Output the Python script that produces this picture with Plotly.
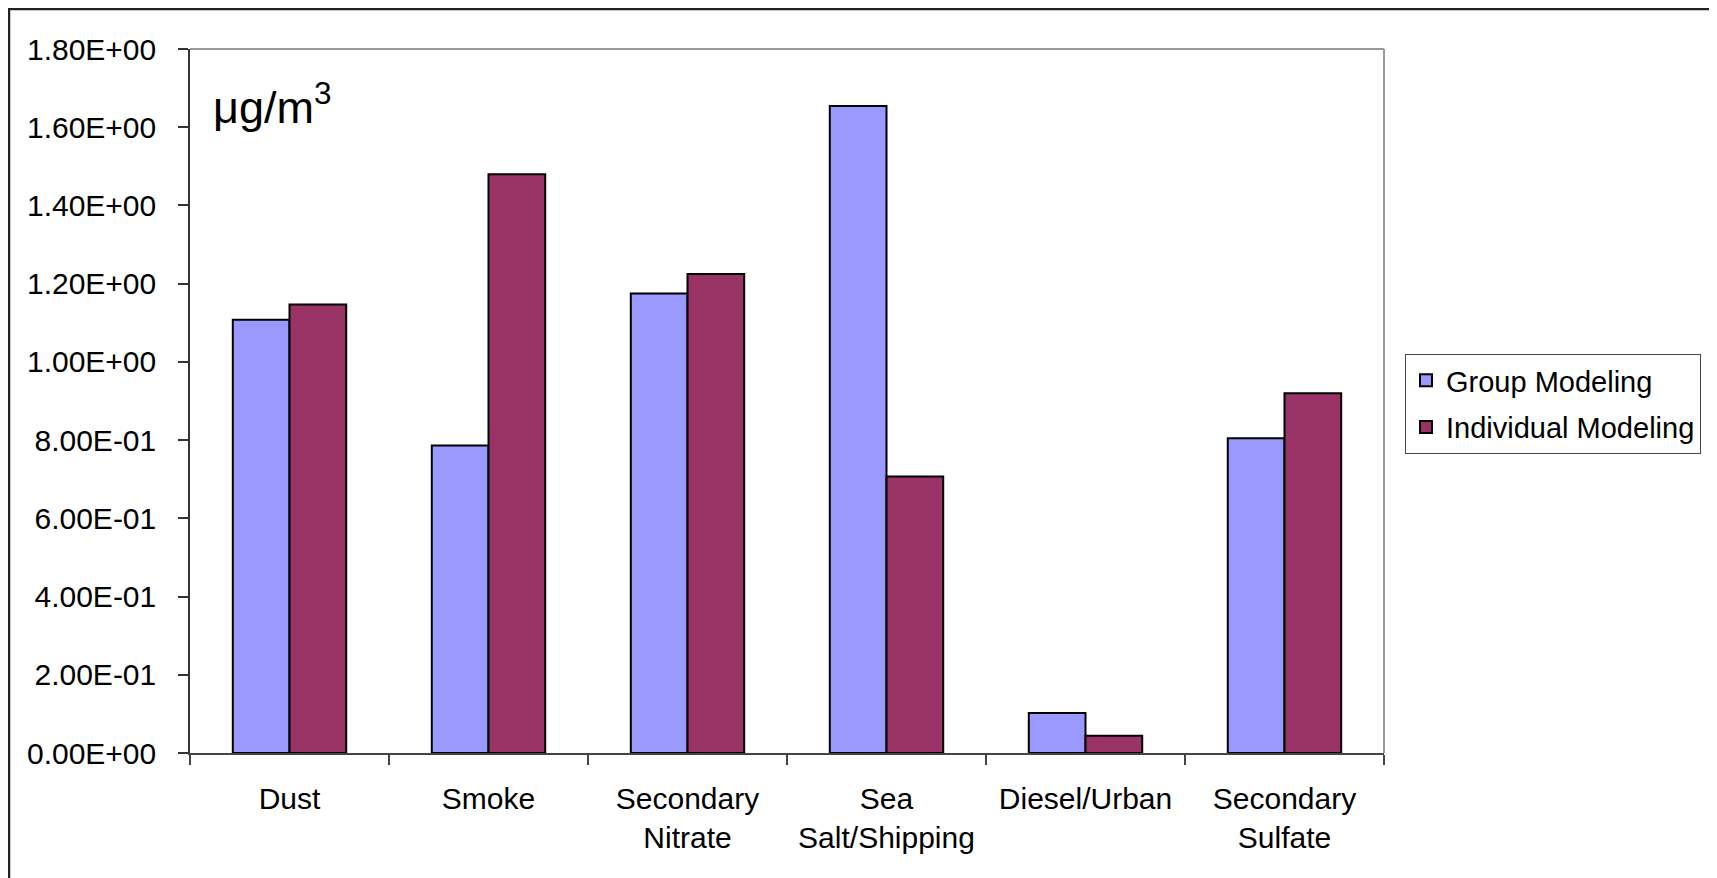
import plotly.graph_objects as go

categories = ["Dust", "Smoke", "Secondary<br>Nitrate", "Sea<br>Salt/Shipping", "Diesel/Urban", "Secondary<br>Sulfate"]
group_modeling = [1.108, 0.786, 1.175, 1.654, 0.102, 0.805]
individual_modeling = [1.147, 1.480, 1.225, 0.707, 0.044, 0.920]
y_tickvals = [0, 0.2, 0.4, 0.6, 0.8, 1.0, 1.2, 1.4, 1.6, 1.8]
y_ticktext = ["0.00E+00", "2.00E-01", "4.00E-01", "6.00E-01", "8.00E-01",
              "1.00E+00", "1.20E+00", "1.40E+00", "1.60E+00", "1.80E+00"]

W, H = 1717, 878
OFF = 8  # page body margin offset
L, R, T, B = 190 - OFF, 1384 - OFF, 49 - OFF, 753 - OFF
pw, ph = R - L, B - T

def px(x):
    return (x - OFF - L) / pw

def py(y):
    return (B - (y - OFF)) / ph

FAM = "Liberation Sans, Arial, sans-serif"
font = dict(family=FAM, size=30, color="black")

fig = go.Figure()
fig.add_trace(go.Bar(x=categories, y=group_modeling, name="Group Modeling",
                     legendgroup="g1",
                     marker=dict(color="#9999FF", line=dict(color="black", width=2))))
fig.add_trace(go.Bar(x=categories, y=individual_modeling, name="Individual Modeling",
                     legendgroup="g2",
                     marker=dict(color="#993366", line=dict(color="black", width=2))))

fig.update_layout(
    width=W, height=H,
    margin=dict(l=L, r=W - R, t=T, b=H - B, autoexpand=False),
    paper_bgcolor="white", plot_bgcolor="white",
    barmode="group", bargap=0.43, bargroupgap=0,
    font=font,
    showlegend=True,
    legend=dict(x=px(1405), y=py(354), xanchor="left", yanchor="top",
                bgcolor="white", bordercolor="#444", borderwidth=1,
                font=dict(family=FAM, size=29, color="black"),
                traceorder="grouped", tracegroupgap=6,
                itemwidth=30),
    xaxis=dict(showline=True, linecolor="#444", linewidth=1.5, ticks="outside",
               tickson="boundaries", ticklen=10, tickcolor="#444", tickwidth=1.5,
               ticklabelstandoff=18, mirror=False, showgrid=False,
               tickfont=font),
    yaxis=dict(range=[0, 1.8], tickvals=y_tickvals, ticktext=y_ticktext,
               showline=True, linecolor="#333", linewidth=1.5, ticks="outside",
               ticklen=10, tickcolor="#333", tickwidth=1.5, ticklabelstandoff=16,
               showgrid=False, zeroline=False, tickfont=font),
    shapes=[
        dict(type="line", xref="paper", yref="paper", x0=0, x1=1, y0=1, y1=1,
             line=dict(color="#999", width=2)),
        dict(type="line", xref="paper", yref="paper", x0=1, x1=1, y0=0, y1=1,
             line=dict(color="#999", width=2)),
        dict(type="rect", xref="paper", yref="paper",
             x0=px(9), x1=px(1712), y0=py(900), y1=py(9),
             line=dict(color="#222", width=2.5), layer="below"),
    ],
    annotations=[
        dict(text="μg/m<sup>3</sup>", xref="paper", yref="paper",
             x=px(211), y=py(104), xanchor="left", yanchor="middle",
             showarrow=False,
             font=dict(family=FAM, size=45, color="black")),
    ],
)

fig.write_html("out.html")
